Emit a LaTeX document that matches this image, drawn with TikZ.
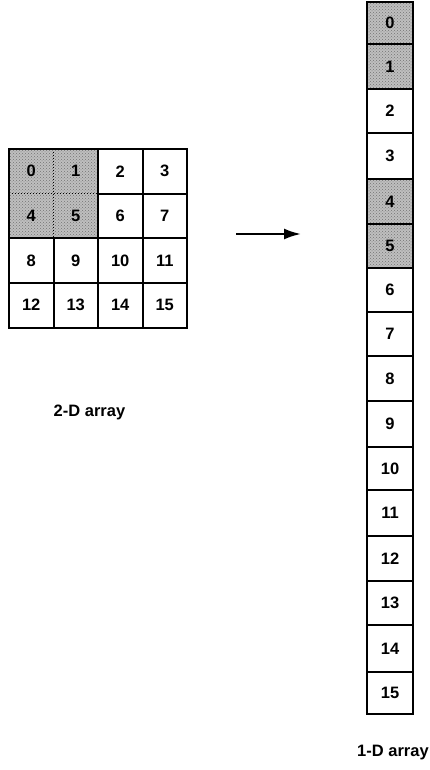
\documentclass[tikz,border=0pt]{standalone}
\usepackage{fontspec}
\setmainfont{Liberation Sans}
\usetikzlibrary{arrows.meta,patterns}
\begin{document}
\begin{tikzpicture}[x=1pt,y=-1pt,
  lbl/.style={font=\fontsize{16.5}{19}\selectfont\bfseries},
  cellA/.style={lbl, minimum width=44.5pt, minimum height=44.6pt, inner sep=0pt},
  cellB/.style={lbl, draw, line width=2pt, minimum width=46pt, inner sep=0pt},
  shade/.style={preaction={fill=black!25}, pattern=crosshatch dots, pattern color=black!55},
  plain/.style={},
  gridline/.style={line width=2pt},
  dotline/.style={line width=1pt, dotted}
]
\useasboundingbox (0,0) rectangle (430,770);
% 2-D array
\path[shade] (9,149) rectangle (98,238.2);
\foreach \n in {0,...,15} {
  \pgfmathtruncatemacro\c{mod(\n,4)}
  \pgfmathtruncatemacro\r{div(\n,4)}
  \node[cellA] (m\n) at ({31.25+44.5*\c},{171.3+44.6*\r}) {\n};
}
\draw[gridline] (m0.north west) rectangle (m15.south east);
\draw[gridline] (m1.north east) -- (m13.south east);
\draw[gridline] (m2.north east) -- (m14.south east);
\draw[gridline] (m8.north east) -- (m12.south east);
\draw[dotline] (m0.north east) -- (m4.south east);
\draw[gridline] (m2.south west) -- (m3.south east);
\draw[dotline] (m0.south west) -- (m1.south east);
\draw[gridline] (m4.south west) -- (m7.south east);
\draw[gridline] (m8.south west) -- (m11.south east);
% arrow
\coordinate (a1) at (236,234);
\coordinate (a2) at (301,234);
\draw[line width=2.2pt,-{Latex[length=17pt,width=11pt]}] (a1) -- (a2);
% 1-D array
\foreach \t/\b/\s [count=\i from 0] in {2/44/shade,44/89/shade,89/133/plain,133/179/plain,
  179/224/shade,224/268/shade,268/312/plain,312/356/plain,356/401/plain,401/447/plain,
  447/490/plain,490/536/plain,536/581/plain,581/625/plain,625/672/plain,672/714/plain} {
  \node[cellB, \s, minimum height={(\b-\t)*1pt}] (v\i) at (390,{(\t+\b)/2}) {\i};
}
% labels
\node[lbl, anchor=base] (l2) at (89.5,416) {2-D array};
\node[lbl, anchor=base west, inner sep=0pt] (l1) at (357,756) {1-D array};
\end{tikzpicture}
\end{document}
